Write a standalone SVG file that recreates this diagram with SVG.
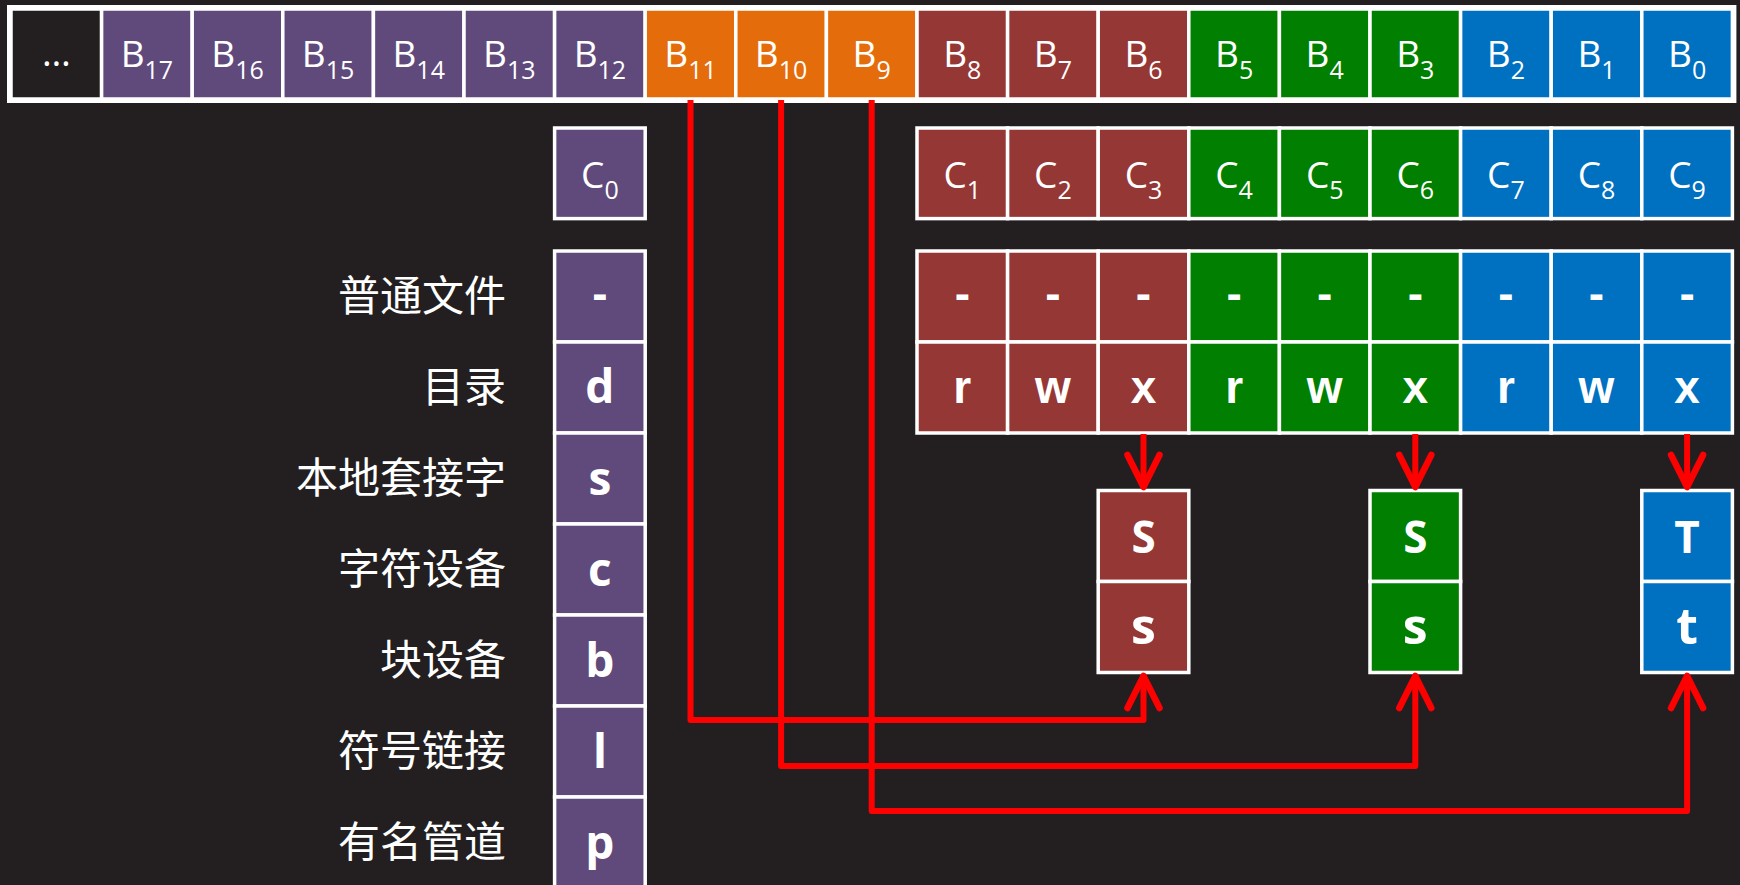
<svg xmlns="http://www.w3.org/2000/svg" width="1740" height="885" viewBox="0 0 1740 885">
<defs>
<style>
.cell{stroke:#fff;stroke-width:3.5}
.pu{fill:#604A7B}.or{fill:#E46C0A}.rd{fill:#953735}.gn{fill:#007F00}.bl{fill:#0070C0}.bk{fill:#231F20}
.frame{fill:none;stroke:#fff;stroke-width:4}
.lbl{font-family:"Open Sans","Liberation Sans",sans-serif;font-size:37px;fill:#fff;text-anchor:middle}
.sub{font-size:25px}
.bd{font-family:"Liberation Sans",Arial,sans-serif;font-weight:bold;font-size:46px;fill:#fff;text-anchor:middle}
.bo{font-family:"Open Sans","Liberation Sans",sans-serif;font-weight:bold;font-size:46px;fill:#fff;text-anchor:middle}
.cap{font-size:44px}
.low{font-size:50px}
.cn{font-family:"Noto Sans CJK SC",sans-serif;font-size:42px;fill:#fff;text-anchor:end}
.conn{fill:none;stroke:#FF0000;stroke-width:6;stroke-linejoin:round}
</style>
<marker id="arr" markerUnits="userSpaceOnUse" viewBox="-40 -20 44 40" markerWidth="44" markerHeight="40" refX="0" refY="0" orient="auto" overflow="visible">
<path d="M-32,-16 L0,0 L-32,16" fill="none" stroke="#FF0000" stroke-width="6.5" stroke-linecap="round" stroke-linejoin="round"/>
</marker>
</defs>
<rect x="0" y="0" width="1740" height="885" fill="#231F20"/>

<!-- Top row B -->
<g id="b-dots"><rect class="cell bk" x="11" y="9" width="90.6" height="90"/><text class="lbl" x="56.3" y="66">…</text></g>
<g id="b17"><rect class="cell pu" x="101.6" y="9" width="90.6" height="90"/><text class="lbl" x="146.9" y="67">B<tspan class="sub" dy="11.5">17</tspan></text></g>
<g id="b16"><rect class="cell pu" x="192.2" y="9" width="90.6" height="90"/><text class="lbl" x="237.5" y="67">B<tspan class="sub" dy="11.5">16</tspan></text></g>
<g id="b15"><rect class="cell pu" x="282.8" y="9" width="90.6" height="90"/><text class="lbl" x="328.1" y="67">B<tspan class="sub" dy="11.5">15</tspan></text></g>
<g id="b14"><rect class="cell pu" x="373.4" y="9" width="90.6" height="90"/><text class="lbl" x="418.7" y="67">B<tspan class="sub" dy="11.5">14</tspan></text></g>
<g id="b13"><rect class="cell pu" x="464" y="9" width="90.6" height="90"/><text class="lbl" x="509.3" y="67">B<tspan class="sub" dy="11.5">13</tspan></text></g>
<g id="b12"><rect class="cell pu" x="554.6" y="9" width="90.6" height="90"/><text class="lbl" x="599.9" y="67">B<tspan class="sub" dy="11.5">12</tspan></text></g>
<g id="b11"><rect class="cell or" x="645.2" y="9" width="90.6" height="90"/><text class="lbl" x="690.5" y="67">B<tspan class="sub" dy="11.5">11</tspan></text></g>
<g id="b10"><rect class="cell or" x="735.8" y="9" width="90.6" height="90"/><text class="lbl" x="781.1" y="67">B<tspan class="sub" dy="11.5">10</tspan></text></g>
<g id="b9"><rect class="cell or" x="826.4" y="9" width="90.6" height="90"/><text class="lbl" x="871.7" y="67">B<tspan class="sub" dy="11.5">9</tspan></text></g>
<g id="b8"><rect class="cell rd" x="917" y="9" width="90.6" height="90"/><text class="lbl" x="962.3" y="67">B<tspan class="sub" dy="11.5">8</tspan></text></g>
<g id="b7"><rect class="cell rd" x="1007.6" y="9" width="90.6" height="90"/><text class="lbl" x="1052.9" y="67">B<tspan class="sub" dy="11.5">7</tspan></text></g>
<g id="b6"><rect class="cell rd" x="1098.2" y="9" width="90.6" height="90"/><text class="lbl" x="1143.5" y="67">B<tspan class="sub" dy="11.5">6</tspan></text></g>
<g id="b5"><rect class="cell gn" x="1188.8" y="9" width="90.6" height="90"/><text class="lbl" x="1234.1" y="67">B<tspan class="sub" dy="11.5">5</tspan></text></g>
<g id="b4"><rect class="cell gn" x="1279.4" y="9" width="90.6" height="90"/><text class="lbl" x="1324.7" y="67">B<tspan class="sub" dy="11.5">4</tspan></text></g>
<g id="b3"><rect class="cell gn" x="1370" y="9" width="90.6" height="90"/><text class="lbl" x="1415.3" y="67">B<tspan class="sub" dy="11.5">3</tspan></text></g>
<g id="b2"><rect class="cell bl" x="1460.6" y="9" width="90.6" height="90"/><text class="lbl" x="1505.9" y="67">B<tspan class="sub" dy="11.5">2</tspan></text></g>
<g id="b1"><rect class="cell bl" x="1551.2" y="9" width="90.6" height="90"/><text class="lbl" x="1596.5" y="67">B<tspan class="sub" dy="11.5">1</tspan></text></g>
<g id="b0"><rect class="cell bl" x="1641.8" y="9" width="90.6" height="90"/><text class="lbl" x="1687.1" y="67">B<tspan class="sub" dy="11.5">0</tspan></text></g>
<rect class="frame" x="9" y="7" width="1725.4" height="94"/>

<!-- C row -->
<g id="c0"><rect class="cell pu" x="554.6" y="128" width="90.6" height="90.6"/><text class="lbl" x="599.9" y="188">C<tspan class="sub" dy="11">0</tspan></text></g>
<g id="c1"><rect class="cell rd" x="917" y="128" width="90.6" height="90.6"/><text class="lbl" x="962.3" y="188">C<tspan class="sub" dy="11">1</tspan></text></g>
<g id="c2"><rect class="cell rd" x="1007.6" y="128" width="90.6" height="90.6"/><text class="lbl" x="1052.9" y="188">C<tspan class="sub" dy="11">2</tspan></text></g>
<g id="c3"><rect class="cell rd" x="1098.2" y="128" width="90.6" height="90.6"/><text class="lbl" x="1143.5" y="188">C<tspan class="sub" dy="11">3</tspan></text></g>
<g id="c4"><rect class="cell gn" x="1188.8" y="128" width="90.6" height="90.6"/><text class="lbl" x="1234.1" y="188">C<tspan class="sub" dy="11">4</tspan></text></g>
<g id="c5"><rect class="cell gn" x="1279.4" y="128" width="90.6" height="90.6"/><text class="lbl" x="1324.7" y="188">C<tspan class="sub" dy="11">5</tspan></text></g>
<g id="c6"><rect class="cell gn" x="1370" y="128" width="90.6" height="90.6"/><text class="lbl" x="1415.3" y="188">C<tspan class="sub" dy="11">6</tspan></text></g>
<g id="c7"><rect class="cell bl" x="1460.6" y="128" width="90.6" height="90.6"/><text class="lbl" x="1505.9" y="188">C<tspan class="sub" dy="11">7</tspan></text></g>
<g id="c8"><rect class="cell bl" x="1551.2" y="128" width="90.6" height="90.6"/><text class="lbl" x="1596.5" y="188">C<tspan class="sub" dy="11">8</tspan></text></g>
<g id="c9"><rect class="cell bl" x="1641.8" y="128" width="90.6" height="90.6"/><text class="lbl" x="1687.1" y="188">C<tspan class="sub" dy="11">9</tspan></text></g>

<!-- Permission rows -->
<g id="p1a"><rect class="cell rd" x="917" y="251" width="90.6" height="91"/><text class="bd" x="962.3" y="309">-</text></g>
<g id="p2a"><rect class="cell rd" x="1007.6" y="251" width="90.6" height="91"/><text class="bd" x="1052.9" y="309">-</text></g>
<g id="p3a"><rect class="cell rd" x="1098.2" y="251" width="90.6" height="91"/><text class="bd" x="1143.5" y="309">-</text></g>
<g id="p4a"><rect class="cell gn" x="1188.8" y="251" width="90.6" height="91"/><text class="bd" x="1234.1" y="309">-</text></g>
<g id="p5a"><rect class="cell gn" x="1279.4" y="251" width="90.6" height="91"/><text class="bd" x="1324.7" y="309">-</text></g>
<g id="p6a"><rect class="cell gn" x="1370" y="251" width="90.6" height="91"/><text class="bd" x="1415.3" y="309">-</text></g>
<g id="p7a"><rect class="cell bl" x="1460.6" y="251" width="90.6" height="91"/><text class="bd" x="1505.9" y="309">-</text></g>
<g id="p8a"><rect class="cell bl" x="1551.2" y="251" width="90.6" height="91"/><text class="bd" x="1596.5" y="309">-</text></g>
<g id="p9a"><rect class="cell bl" x="1641.8" y="251" width="90.6" height="91"/><text class="bd" x="1687.1" y="309">-</text></g>

<g id="p1b"><rect class="cell rd" x="917" y="342" width="90.6" height="91"/><text class="bd" x="962.3" y="403">r</text></g>
<g id="p2b"><rect class="cell rd" x="1007.6" y="342" width="90.6" height="91"/><text class="bd" x="1052.9" y="403">w</text></g>
<g id="p3b"><rect class="cell rd" x="1098.2" y="342" width="90.6" height="91"/><text class="bd" x="1143.5" y="403">x</text></g>
<g id="p4b"><rect class="cell gn" x="1188.8" y="342" width="90.6" height="91"/><text class="bd" x="1234.1" y="403">r</text></g>
<g id="p5b"><rect class="cell gn" x="1279.4" y="342" width="90.6" height="91"/><text class="bd" x="1324.7" y="403">w</text></g>
<g id="p6b"><rect class="cell gn" x="1370" y="342" width="90.6" height="91"/><text class="bd" x="1415.3" y="403">x</text></g>
<g id="p7b"><rect class="cell bl" x="1460.6" y="342" width="90.6" height="91"/><text class="bd" x="1505.9" y="403">r</text></g>
<g id="p8b"><rect class="cell bl" x="1551.2" y="342" width="90.6" height="91"/><text class="bd" x="1596.5" y="403">w</text></g>
<g id="p9b"><rect class="cell bl" x="1641.8" y="342" width="90.6" height="91"/><text class="bd" x="1687.1" y="403">x</text></g>

<!-- File type column -->
<g id="t-file"><rect class="cell pu" x="554.6" y="251" width="90.6" height="91"/><text class="bd" x="599.9" y="309">-</text><text class="cn" x="506" y="311">普通文件</text></g>
<g id="t-dir"><rect class="cell pu" x="554.6" y="342" width="90.6" height="91"/><text class="bo" x="599.9" y="403">d</text><text class="cn" x="506" y="402">目录</text></g>
<g id="t-sock"><rect class="cell pu" x="554.6" y="433" width="90.6" height="91"/><text class="bo" x="599.9" y="495">s</text><text class="cn" x="506" y="493">本地套接字</text></g>
<g id="t-chr"><rect class="cell pu" x="554.6" y="524" width="90.6" height="91"/><text class="bo" x="599.9" y="586">c</text><text class="cn" x="506" y="584">字符设备</text></g>
<g id="t-blk"><rect class="cell pu" x="554.6" y="615" width="90.6" height="91"/><text class="bo" x="599.9" y="677">b</text><text class="cn" x="506" y="675">块设备</text></g>
<g id="t-lnk"><rect class="cell pu" x="554.6" y="706" width="90.6" height="91"/><text class="bo" x="599.9" y="768">l</text><text class="cn" x="506" y="766">符号链接</text></g>
<g id="t-fifo"><rect class="cell pu" x="554.6" y="797" width="90.6" height="91"/><text class="bo" x="599.9" y="859">p</text><text class="cn" x="506" y="857">有名管道</text></g>

<!-- Special bits -->
<g id="suid"><rect class="cell rd" x="1098.2" y="490.5" width="90.6" height="91"/><text class="bo cap" x="1143.5" y="553">S</text><rect class="cell rd" x="1098.2" y="581.5" width="90.6" height="91"/><text class="bo low" x="1143.5" y="644">s</text></g>
<g id="sgid"><rect class="cell gn" x="1370" y="490.5" width="90.6" height="91"/><text class="bo cap" x="1415.3" y="553">S</text><rect class="cell gn" x="1370" y="581.5" width="90.6" height="91"/><text class="bo low" x="1415.3" y="644">s</text></g>
<g id="sticky"><rect class="cell bl" x="1641.8" y="490.5" width="90.6" height="91"/><text class="bo cap" x="1687.1" y="553">T</text><rect class="cell bl" x="1641.8" y="581.5" width="90.6" height="91"/><text class="bo low" x="1687.1" y="644">t</text></g>

<!-- Connectors -->
<g id="connectors">
<path class="conn" d="M1143.5,434 V487" marker-end="url(#arr)"/>
<path class="conn" d="M1415.3,434 V487" marker-end="url(#arr)"/>
<path class="conn" d="M1687.1,434 V487" marker-end="url(#arr)"/>
<path class="conn" d="M690.5,100 V720 H1143.5 V676" marker-end="url(#arr)"/>
<path class="conn" d="M781.1,100 V766 H1415.3 V676" marker-end="url(#arr)"/>
<path class="conn" d="M871.7,100 V811 H1687.1 V676" marker-end="url(#arr)"/>
</g>
</svg>
